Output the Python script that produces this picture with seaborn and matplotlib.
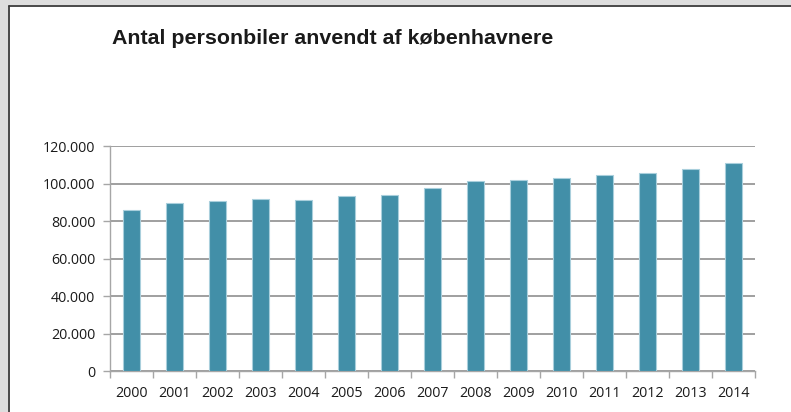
import matplotlib
matplotlib.use('Agg')
import matplotlib.pyplot as plt
import matplotlib.ticker as mticker
from matplotlib.patches import Rectangle
from matplotlib.lines import Line2D
import pandas as pd
import seaborn as sns

# data
years = ['2000', '2001', '2002', '2003', '2004', '2005', '2006', '2007',
         '2008', '2009', '2010', '2011', '2012', '2013', '2014']
cars = [85700, 89400, 90700, 91700, 91200, 93200, 93700, 97400,
        101300, 101900, 103100, 104500, 105600, 107600, 110800]
title = 'Antal personbiler anvendt af københavnere'

df = pd.DataFrame({'year': years, 'cars': cars})

sns.set_style('white')
plt.rcParams['font.family'] = ['Open Sans', 'DejaVu Sans']

fig = plt.figure(figsize=(7.91, 4.12), dpi=100)
ax = fig.add_axes([0.1391, 0.0995, 0.8154, 0.5461])

sns.barplot(data=df, x='year', y='cars', color='#428fa8', saturation=1,
            width=0.41, edgecolor='#a9cfdc', linewidth=0.8, ax=ax, zorder=3)

ax.set_xlim(-0.5, len(years) - 0.5)
ax.set_ylim(0, 120000)
ax.set_yticks(range(0, 120001, 20000))
ax.yaxis.set_major_formatter(mticker.FuncFormatter(
    lambda v, p: '{:,.0f}'.format(v).replace(',', '.')))
ax.yaxis.grid(True, color='#858585', linewidth=1.1, zorder=0)
ax.xaxis.grid(False)
ax.set_xlabel('')
ax.set_ylabel('')

for s in ['top', 'right']:
    ax.spines[s].set_visible(False)
for s in ['left', 'bottom']:
    ax.spines[s].set_color('#a6a6a6')
    ax.spines[s].set_linewidth(1.0)

# boundary ticks on x, labels centred under bars
ax.set_xticks([i - 0.5 for i in range(len(years) + 1)], minor=True)
ax.tick_params(axis='x', which='major', length=0, pad=11,
               labelsize=10.3, labelcolor='#1a1a1a')
ax.tick_params(axis='x', which='minor', length=5, width=1,
               color='#a6a6a6', direction='out', bottom=True)
ax.tick_params(axis='y', which='major', length=5, width=1,
               color='#a6a6a6', direction='out', left=True, pad=5.5,
               labelsize=10.3, labelcolor='#1a1a1a')

fig.text(0.1416, 0.893, title, fontsize=15.4, fontweight='bold',
         family=['Liberation Sans', 'DejaVu Sans'], color='#1a1a1a',
         ha='left', va='baseline')

# grey frame of the screenshot at top and left
fig.add_artist(Rectangle((0, 1 - 5 / 412), 1, 5 / 412, transform=fig.transFigure,
                         facecolor='#dedede', edgecolor='none'))
fig.add_artist(Rectangle((0, 0), 8 / 791, 1, transform=fig.transFigure,
                         facecolor='#dedede', edgecolor='none'))
fig.add_artist(Line2D([8.5 / 791, 1], [1 - 5.8 / 412, 1 - 5.8 / 412],
                      transform=fig.transFigure, color='#3a3a3a', linewidth=1.3))
fig.add_artist(Line2D([8.7 / 791, 8.7 / 791], [0, 1 - 5.8 / 412],
                      transform=fig.transFigure, color='#3a3a3a', linewidth=1.3))

fig.savefig('out.png', dpi=100)
